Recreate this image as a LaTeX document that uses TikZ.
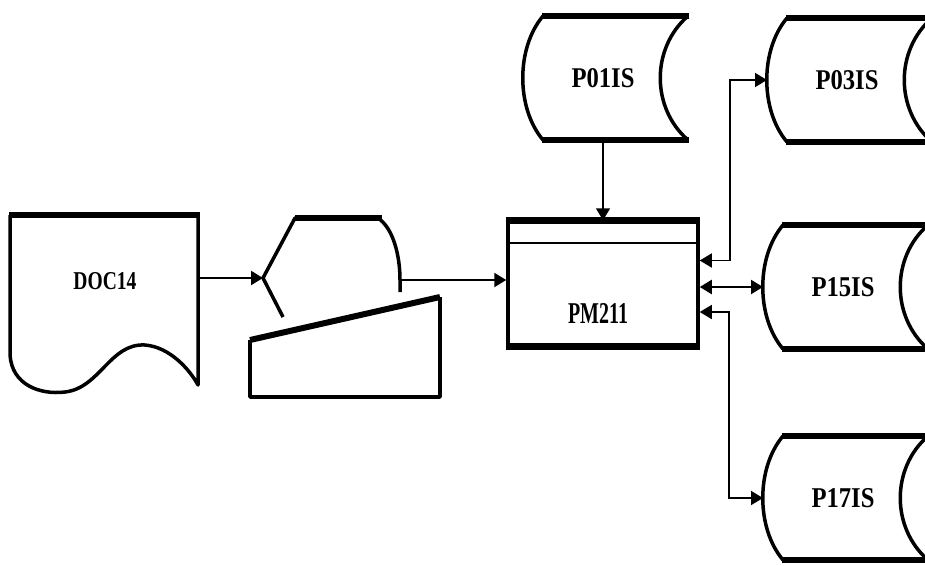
\documentclass[tikz,border=0pt]{standalone}
\usepackage{graphicx}
\usepackage{fontspec}
\setmainfont{Liberation Serif}
\usetikzlibrary{arrows.meta,calc}
\newcommand\lbltext[3]{\resizebox{#1pt}{#2pt}{\bfseries #3}}
\newcommand\sdata[4]{%
 \node[lbl] (#1) at (#2,#3) {\lbltext{63}{19}{#4}};
 \draw[side] ({#2-60},{#3-62}) .. controls ({#2-87},{#3-30}) and ({#2-87},{#3+30}) .. ({#2-60},{#3+62});
 \draw[side] ({#2+85},{#3-62}) .. controls ({#2+48},{#3-30}) and ({#2+48},{#3+30}) .. ({#2+85},{#3+62});
 \draw[edge] ({#2-61},{#3-62}) -- ({#2+86},{#3-62});
 \draw[edge] ({#2-61},{#3+62}) -- ({#2+86},{#3+62});
 \coordinate (#1w) at ({#2-80},#3);
 \coordinate (#1s) at (#2,{#3+62});
}
\begin{document}
\begin{tikzpicture}[x=1pt,y=-1pt,
 side/.style={line width=3.5pt, line join=round},
 edge/.style={line width=6pt},
 con/.style={line width=2.2pt},
 thincon/.style={line width=1.6pt},
 tip/.style={-{Triangle[length=12pt,width=14pt]}},
 dtip/.style={{Triangle[length=12pt,width=14pt]}-{Triangle[length=12pt,width=14pt]}},
 lbl/.style={inner sep=0pt}]
\useasboundingbox (0,0) rectangle (925,565);

% DOC14 document
\node[lbl] (doc) at (105,281) {\lbltext{63}{17}{DOC14}};
\draw[side] (10,215) -- (10,355) .. controls (12,385) and (40,395) .. (65,392)
  .. controls (100,388) and (110,343) .. (145,345)
  .. controls (170,347) and (190,370) .. (198,385) -- (198,215);
\draw[edge] (9,215) -- (200,215);
\coordinate (doce) at (198,278);

% display + manual input
\coordinate (disp) at (263,278);
\coordinate (dispe) at (400,280);
\draw[side] (283,317) -- (disp) -- (295,218) -- (378,218)
  .. controls (393,228) and (400,255) .. (dispe) -- (400,292);
\draw[edge] (295,218) -- (382,218);
\draw[side] (250,340) -- (250,397) -- (440,397) -- (440,297);
\draw[edge] (250,340) -- (440,297);

% PM211
\node[draw, line width=3.5pt, minimum width=190, minimum height=123, inner sep=0pt] (pm) at (603,283.5) {};
\draw[edge] (pm.north west) -- (pm.north east);
\draw[edge] (pm.south west) -- (pm.south east);
\draw[con] ($(pm.north west)+(0,23)$) -- ($(pm.north east)+(0,23)$);
\node[lbl] (pmt) at (598,313) {\lbltext{60}{20}{PM211}};
\coordinate (pa) at ($(pm.east)+(0,-23)$);
\coordinate (pb) at ($(pm.east)+(0,3.5)$);
\coordinate (pc) at ($(pm.east)+(0,28.5)$);

% stored data
\sdata{p01}{603}{78}{P01IS}
\sdata{p03}{847}{80}{P03IS}
\sdata{p15}{843}{287}{P15IS}
\sdata{p17}{843}{498}{P17IS}

% connectors
\draw[con,tip] (doce) -- (disp);
\draw[con,tip] (dispe) -- (pm.west |- dispe);
\draw[thincon,tip] (p01s) -- (p01s |- pm.north);
\draw[thincon,dtip] (pa) -- ++(30,0) |- (p03w);
\draw[con,dtip] (pb) -- (p15w);
\draw[thincon,dtip] (pc) -- ++(29,0) |- (p17w);
\end{tikzpicture}
\end{document}
